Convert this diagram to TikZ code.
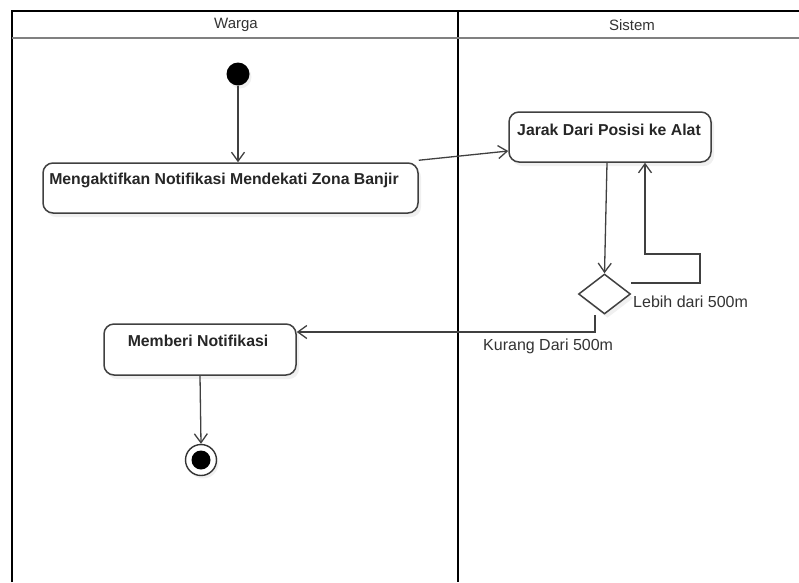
\documentclass[tikz,border=0pt]{standalone}
\usepackage{fontspec}
\setmainfont{Liberation Sans}
\usetikzlibrary{arrows.meta,shapes.geometric,shadows,calc}
\begin{document}
\begin{tikzpicture}[x=1pt,y=-1pt,
  lane/.style={line width=2.2pt,black},
  sep/.style={line width=1.4pt,black!50},
  act/.style={draw=black!75,line width=1.5pt,rounded corners=10pt,fill=white,
    drop shadow={shadow xshift=3pt,shadow yshift=-4pt,opacity=0.12}},
  acttext/.style={font=\bfseries\fontsize{15.8}{18}\selectfont,text=black!85,inner sep=0pt},
  flow/.style={draw=black!75,line width=1.3pt,-{Straight Barb[length=9pt,width=13pt]}},
  lbl/.style={font=\fontsize{16}{18}\selectfont,text=black!80,inner sep=0pt},
  head/.style={font=\fontsize{15}{17}\selectfont,text=black!80,inner sep=0pt}]
\useasboundingbox (0,0) rectangle (799,582);

% swimlanes
\draw[lane] (12,582) -- (12,11) -- (805,11);
\draw[lane] (458,11) -- (458,582);
\draw[sep] (12,38) -- (805,38);
\node[head] (warga) at (236,25) {Warga};
\node[head] (sistem) at (632,25) {Sistem};

% start / end
\node[circle,fill=black,minimum size=23pt,inner sep=0pt,
  drop shadow={shadow xshift=2pt,shadow yshift=-3pt,opacity=0.12}] (start) at (238,74) {};
\node[circle,draw=black!80,line width=1.4pt,fill=white,minimum size=31pt,inner sep=0pt,
  drop shadow={shadow xshift=2pt,shadow yshift=-3pt,opacity=0.12}] (finish) at (201,460) {};
\node[circle,fill=black,minimum size=19pt,inner sep=0pt] (finishdot) at (finish.center) {};

% actions
\node[act,minimum width=375pt,minimum height=50pt] (act1) at (230.5,188) {};
\node[acttext] (act1t) at (224,180) {Mengaktifkan Notifikasi Mendekati Zona Banjir};
\node[act,minimum width=202pt,minimum height=50pt] (act2) at (610,137) {};
\node[acttext] (act2t) at (609,130) {Jarak Dari Posisi ke Alat};
\node[act,minimum width=192pt,minimum height=51pt] (act3) at (200,349.5) {};
\node[acttext] (act3t) at (198,341) {Memberi Notifikasi};

% decision
\node[diamond,draw=black!75,line width=1.5pt,fill=white,minimum width=52pt,minimum height=40pt,
  inner sep=0pt,aspect=1.3,
  drop shadow={shadow xshift=3pt,shadow yshift=-4pt,opacity=0.12}] (dec) at (604.5,294) {};

% loop corners
\coordinate (l1) at (700,283);
\coordinate (l2) at (700,254);
\coordinate (l3) at (645,254);
\coordinate (k1) at (595,332);

% flows
\draw[flow] (start.south) -- (start.south |- act1.north);
\draw[flow] ($(act1.north east)+(0,-2)$) -- ($(act2.west)+(0,14)$);
\draw[flow] ($(act2.south)+(-3,0)$) -- (dec.north);
\draw[flow] (dec.east |- l1) -- (l1) -- (l2) -- (l3) -- (l3 |- act2.south);
\draw[flow] (dec.south -| k1) -- (k1) -- (k1 -| act3.east);
\draw[flow] (act3.south) -- (finish.north);

% guards
\node[lbl,anchor=west] (more) at (633,302) {Lebih dari 500m};
\node[lbl,anchor=west] (less) at (483,346) {Kurang Dari 500m};
\end{tikzpicture}
\end{document}
